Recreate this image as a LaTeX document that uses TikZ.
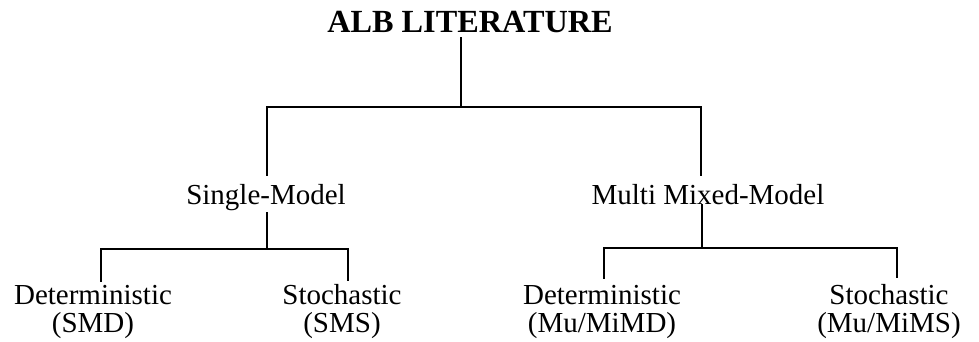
\documentclass[tikz,border=0pt]{standalone}
\usepackage{fontspec}
\setmainfont{Liberation Serif}
\begin{document}
\begin{tikzpicture}[x=0.75pt,y=-0.75pt,
  lbl/.style={inner sep=0pt, anchor=base, font=\fontsize{21.75pt}{21pt}\selectfont},
  lbl2/.style={lbl, align=center},
  ttl/.style={inner sep=0pt, anchor=base, font=\fontsize{24.2pt}{26pt}\selectfont\bfseries},
  conn/.style={line width=1.5pt, line cap=rect}]
\useasboundingbox (0,0) rectangle (979,342);
% labels
\node[ttl] (title) at (470,33) {ALB LITERATURE};
\node[lbl] (sm) at (266,205) {Single-Model};
\node[lbl] (mm) at (708,205) {Multi Mixed-Model};
\node[lbl2] (d1) at (93,333) {Deterministic\\(SMD)};
\node[lbl2] (s1) at (342,333) {Stochastic\\(SMS)};
\node[lbl2] (d2) at (602,333) {Deterministic\\(Mu/MiMD)};
\node[lbl2] (s2) at (889,333) {Stochastic\\(Mu/MiMS)};
% junction points
\coordinate (r0) at (461,38);
\coordinate (r1) at (461,107);
\coordinate (rL) at (267,175);
\coordinate (rR) at (701,175);
\coordinate (a0) at (267,213);
\coordinate (a1) at (267,249);
\coordinate (aL) at (101,281);
\coordinate (aR) at (348,280);
\coordinate (b0) at (702,205);
\coordinate (b1) at (702,248);
\coordinate (bL) at (604,278);
\coordinate (bR) at (897,277);
% connectors
\draw[conn] (r0) -- (r1);
\draw[conn] (rL) |- (r1) -| (rR);
\draw[conn] (a0) -- (a1);
\draw[conn] (aL) |- (a1) -| (aR);
\draw[conn] (b0) -- (b1);
\draw[conn] (bL) |- (b1) -| (bR);
\end{tikzpicture}
\end{document}
